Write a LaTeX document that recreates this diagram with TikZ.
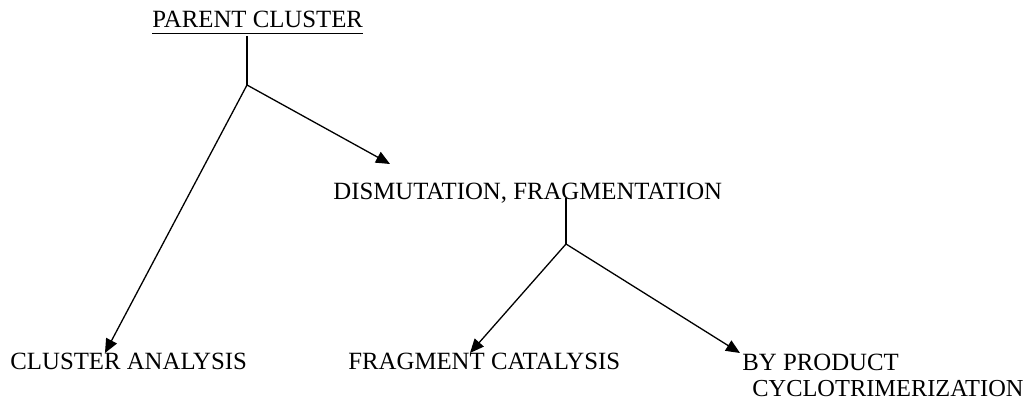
\documentclass[tikz,border=0pt]{standalone}
\usepackage{fontspec}
\setmainfont{Liberation Serif}
\usetikzlibrary{arrows.meta}
\tikzset{
  lbl/.style={anchor=base west, inner sep=0pt, font=\fontsize{12.4}{13.5}\selectfont},
  conn/.style={line width=0.65pt},
  arr/.style={conn, -{Triangle[length=7pt,width=6pt]}}
}
\begin{document}
\begin{tikzpicture}[x=0.5pt, y=-0.5pt]
\useasboundingbox (0,0) rectangle (1029,400);
\node[lbl] (parent) at (152,28) {PARENT CLUSTER};
\node[lbl] (dis) at (333,200) {DISMUTATION, FRAGMENTATION};
\node[lbl] (ca) at (10,370) {CLUSTER ANALYSIS};
\node[lbl] (fc) at (348,370) {FRAGMENT CATALYSIS};
\node[lbl] (bp) at (742,371) {BY PRODUCT};
\node[lbl, font=\fontsize{12.2}{13.5}\selectfont] (bp2) at (752,397) {CYCLOTRIMERIZATION};
\draw[conn] ([yshift=-2.6pt]parent.base west) -- ([yshift=-2.6pt]parent.base east);
\coordinate (t1) at (247,36);
\coordinate (j1) at (247,85);
\coordinate (disTip) at (390,164);
\coordinate (caTip) at (105,353);
\coordinate (t2) at (566,198);
\coordinate (j2) at (566,244);
\coordinate (fcTip) at (470,353);
\coordinate (bpTip) at (740,353);
\draw[conn] (t1) -- (j1);
\draw[arr] (j1) -- (disTip);
\draw[arr] (j1) -- (caTip);
\draw[conn] (t2) -- (j2);
\draw[arr] (j2) -- (fcTip);
\draw[arr] (j2) -- (bpTip);
\end{tikzpicture}
\end{document}
